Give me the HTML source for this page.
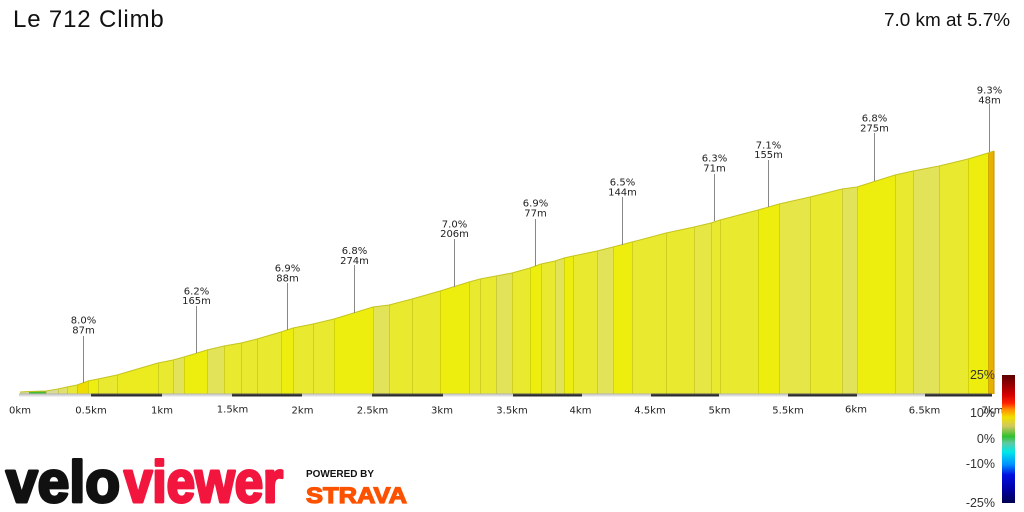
<!DOCTYPE html>
<html>
<head>
<meta charset="utf-8">
<style>
html,body{margin:0;padding:0;background:#fff;}
body{width:1024px;height:512px;overflow:hidden;}
svg{display:block;}
.ann{font-family:"DejaVu Sans","Liberation Sans",sans-serif;font-size:10px;fill:#222;text-anchor:middle;}
.ax{font-family:"DejaVu Sans","Liberation Sans",sans-serif;font-size:10px;fill:#222;text-anchor:middle;}
.lg{font-family:"Liberation Sans",sans-serif;font-size:12.5px;fill:#333;text-anchor:end;}
</style>
</head>
<body>
<svg width="1024" height="512" viewBox="0 0 1024 512" xmlns="http://www.w3.org/2000/svg">
<rect width="1024" height="512" fill="#fff"/>
<text x="13" y="27" font-family="Liberation Sans, sans-serif" font-size="24" letter-spacing="0.85" fill="#111">Le 712 Climb</text>
<text x="1010" y="26" font-family="Liberation Sans, sans-serif" font-size="18.9" fill="#111" text-anchor="end">7.0 km at 5.7%</text>

<g id="profile">
<polygon points="20,394 20,392 29,391.5 29,394" fill="#cfd8a0"/>
<polygon points="29,394 29,391.5 46,391 46,394" fill="#44bb33"/>
<polygon points="46,394 46,391 58,389 58,394" fill="#d8dc98"/>
<polygon points="58,394 58,389 67,387 67,394" fill="#e0e070"/>
<polygon points="67,394 67,387 77,385 77,394" fill="#e8e838"/>
<polygon points="77,394 77,385 88,381 88,394" fill="#f0dc00"/>
<polygon points="88,394 88,381 98,379 98,394" fill="#eeee10"/>
<polygon points="98,394 98,379 117,375 117,394" fill="#e9e930"/>
<polygon points="117,394 117,375 158,363 158,394" fill="#ebeb20"/>
<polygon points="158,394 158,363 173,360 173,394" fill="#e9e930"/>
<polygon points="173,394 173,360 184,357 184,394" fill="#e3e35a"/>
<polygon points="184,394 184,357 207,350 207,394" fill="#eeee0e"/>
<polygon points="207,394 207,350 224,346 224,394" fill="#e3e35a"/>
<polygon points="224,394 224,346 241,343 241,394" fill="#e9e930"/>
<polygon points="241,394 241,343 257,339 257,394" fill="#e9e930"/>
<polygon points="257,394 257,339 281,332 281,394" fill="#e9e930"/>
<polygon points="281,394 281,332 293,328 293,394" fill="#eeee0e"/>
<polygon points="293,394 293,328 313,324 313,394" fill="#e9e930"/>
<polygon points="313,394 313,324 334,319 334,394" fill="#e9e930"/>
<polygon points="334,394 334,319 373,307 373,394" fill="#eeee0e"/>
<polygon points="373,394 373,307 389,305 389,394" fill="#e3e35a"/>
<polygon points="389,394 389,305 412,299 412,394" fill="#e9e930"/>
<polygon points="412,394 412,299 440,291 440,394" fill="#e9e930"/>
<polygon points="440,394 440,291 469,282 469,394" fill="#eeee0e"/>
<polygon points="469,394 469,282 480,279 480,394" fill="#e9e930"/>
<polygon points="480,394 480,279 496,276 496,394" fill="#e9e930"/>
<polygon points="496,394 496,276 512,273 512,394" fill="#e3e35a"/>
<polygon points="512,394 512,273 530,268 530,394" fill="#e9e930"/>
<polygon points="530,394 530,268 541,264 541,394" fill="#eeee0e"/>
<polygon points="541,394 541,264 555,261 555,394" fill="#e9e930"/>
<polygon points="555,394 555,261 564,258 564,394" fill="#e3e35a"/>
<polygon points="564,394 564,258 573,256 573,394" fill="#eeee0e"/>
<polygon points="573,394 573,256 597,251 597,394" fill="#e9e930"/>
<polygon points="597,394 597,251 613,247 613,394" fill="#e3e35a"/>
<polygon points="613,394 613,247 632,242 632,394" fill="#eeee0e"/>
<polygon points="632,394 632,242 666,233 666,394" fill="#e9e930"/>
<polygon points="666,394 666,233 694,227 694,394" fill="#e9e930"/>
<polygon points="694,394 694,227 711,223 711,394" fill="#e6e645"/>
<polygon points="711,394 711,223 720,220 720,394" fill="#e9e930"/>
<polygon points="720,394 720,220 758,210 758,394" fill="#e9e930"/>
<polygon points="758,394 758,210 779,204 779,394" fill="#eeee0e"/>
<polygon points="779,394 779,204 810,197 810,394" fill="#e6e648"/>
<polygon points="810,394 810,197 842,189 842,394" fill="#e9e930"/>
<polygon points="842,394 842,189 857,187 857,394" fill="#e3e35a"/>
<polygon points="857,394 857,187 895,175 895,394" fill="#eeee0e"/>
<polygon points="895,394 895,175 913,171 913,394" fill="#e9e930"/>
<polygon points="913,394 913,171 939,166 939,394" fill="#e3e35a"/>
<polygon points="939,394 939,166 968,159 968,394" fill="#e9e930"/>
<polygon points="968,394 968,159 988,153 988,394" fill="#eeee0e"/>
<polygon points="988,394 988,153 994,151 994,394" fill="#e8b000"/>
<path d="M29.5,391.5V394M46.5,391V394M58.5,389V394M67.5,387V394M77.5,385V394M88.5,381V394M98.5,379V394M117.5,375V394M158.5,363V394M173.5,360V394M184.5,357V394M207.5,350V394M224.5,346V394M241.5,343V394M257.5,339V394M281.5,332V394M293.5,328V394M313.5,324V394M334.5,319V394M373.5,307V394M389.5,305V394M412.5,299V394M440.5,291V394M469.5,282V394M480.5,279V394M496.5,276V394M512.5,273V394M530.5,268V394M541.5,264V394M555.5,261V394M564.5,258V394M573.5,256V394M597.5,251V394M613.5,247V394M632.5,242V394M666.5,233V394M694.5,227V394M711.5,223V394M720.5,220V394M758.5,210V394M779.5,204V394M810.5,197V394M842.5,189V394M857.5,187V394M895.5,175V394M913.5,171V394M939.5,166V394M968.5,159V394M988.5,153V394" stroke="rgba(160,160,0,0.35)" stroke-width="1" fill="none"/>
<polyline points="20,392 29,391.5 46,391 58,389 67,387 77,385 88,381 98,379 117,375 158,363 173,360 184,357 207,350 224,346 241,343 257,339 281,332 293,328 313,324 334,319 373,307 389,305 412,299 440,291 469,282 480,279 496,276 512,273 530,268 541,264 555,261 564,258 573,256 597,251 613,247 632,242 666,233 694,227 711,223 720,220 758,210 779,204 810,197 842,189 857,187 895,175 913,171 939,166 968,159 988,153 994,151" fill="none" stroke="#c4c420" stroke-width="1"/>
<line x1="994" y1="151" x2="994" y2="394" stroke="#c89000" stroke-width="1"/>
</g>

<g id="bar">
<rect x="19" y="393.5" width="72" height="3" fill="#dcdcdc"/>
<rect x="91" y="393.5" width="71" height="3" fill="#2c2c2c"/>
<rect x="162" y="393.5" width="70" height="3" fill="#dcdcdc"/>
<rect x="232" y="393.5" width="70" height="3" fill="#2c2c2c"/>
<rect x="302" y="393.5" width="70" height="3" fill="#dcdcdc"/>
<rect x="372" y="393.5" width="71" height="3" fill="#2c2c2c"/>
<rect x="443" y="393.5" width="70" height="3" fill="#dcdcdc"/>
<rect x="513" y="393.5" width="69" height="3" fill="#2c2c2c"/>
<rect x="582" y="393.5" width="69" height="3" fill="#dcdcdc"/>
<rect x="651" y="393.5" width="68" height="3" fill="#2c2c2c"/>
<rect x="719" y="393.5" width="69" height="3" fill="#dcdcdc"/>
<rect x="788" y="393.5" width="69" height="3" fill="#2c2c2c"/>
<rect x="857" y="393.5" width="68" height="3" fill="#dcdcdc"/>
<rect x="925" y="393.5" width="67" height="3" fill="#2c2c2c"/>
<rect x="19" y="393.5" width="973" height="1" fill="#888" opacity="0.5"/>
</g>

<g id="ann" stroke="#888" stroke-width="1">
<line x1="83.5" y1="336" x2="83.5" y2="383"/>
<line x1="196.5" y1="306" x2="196.5" y2="353"/>
<line x1="287.5" y1="283" x2="287.5" y2="330"/>
<line x1="354.5" y1="265" x2="354.5" y2="313"/>
<line x1="454.5" y1="239" x2="454.5" y2="287"/>
<line x1="535.5" y1="219" x2="535.5" y2="266"/>
<line x1="622.5" y1="197" x2="622.5" y2="245"/>
<line x1="714.5" y1="174" x2="714.5" y2="221"/>
<line x1="768.5" y1="160" x2="768.5" y2="207"/>
<line x1="874.5" y1="133" x2="874.5" y2="181"/>
<line x1="989.5" y1="104" x2="989.5" y2="152"/>
</g>
<g>
<text class="ann" x="83.5" y="323.6">8.0%</text><text class="ann" x="83.5" y="333.6">87m</text>
<text class="ann" x="196.5" y="294.6">6.2%</text><text class="ann" x="196.5" y="304.1">165m</text>
<text class="ann" x="287.5" y="271.6">6.9%</text><text class="ann" x="287.5" y="281.6">88m</text>
<text class="ann" x="354.5" y="254.1">6.8%</text><text class="ann" x="354.5" y="264.1">274m</text>
<text class="ann" x="454.5" y="227.6">7.0%</text><text class="ann" x="454.5" y="237.1">206m</text>
<text class="ann" x="535.5" y="206.6">6.9%</text><text class="ann" x="535.5" y="216.6">77m</text>
<text class="ann" x="622.5" y="185.6">6.5%</text><text class="ann" x="622.5" y="195.6">144m</text>
<text class="ann" x="714.5" y="161.6">6.3%</text><text class="ann" x="714.5" y="171.6">71m</text>
<text class="ann" x="768.5" y="148.6">7.1%</text><text class="ann" x="768.5" y="158.1">155m</text>
<text class="ann" x="874.5" y="121.6">6.8%</text><text class="ann" x="874.5" y="131.6">275m</text>
<text class="ann" x="989.5" y="93.6">9.3%</text><text class="ann" x="989.5" y="103.6">48m</text>
</g>

<g id="axis">
<text class="ax" x="20" y="413.5">0km</text>
<text class="ax" x="91" y="413.5">0.5km</text>
<text class="ax" x="162" y="413.5">1km</text>
<text class="ax" x="232.5" y="412.5">1.5km</text>
<text class="ax" x="302.5" y="413.5">2km</text>
<text class="ax" x="372.5" y="413.5">2.5km</text>
<text class="ax" x="442" y="413.5">3km</text>
<text class="ax" x="512" y="413.5">3.5km</text>
<text class="ax" x="580.5" y="413.5">4km</text>
<text class="ax" x="650" y="413.5">4.5km</text>
<text class="ax" x="719.5" y="413.5">5km</text>
<text class="ax" x="788" y="413.5">5.5km</text>
<text class="ax" x="856" y="412.5">6km</text>
<text class="ax" x="924.5" y="413.5">6.5km</text>
<text class="ax" x="992.5" y="413.5">7km</text>
</g>

<defs>
<linearGradient id="lgd" x1="0" y1="0" x2="0" y2="1">
<stop offset="0" stop-color="#5a0000"/>
<stop offset="0.15" stop-color="#d00000"/>
<stop offset="0.22" stop-color="#ff2000"/>
<stop offset="0.27" stop-color="#ff9000"/>
<stop offset="0.33" stop-color="#f0e000"/>
<stop offset="0.40" stop-color="#d0c860"/>
<stop offset="0.48" stop-color="#30c030"/>
<stop offset="0.53" stop-color="#60c8a0"/>
<stop offset="0.60" stop-color="#00e8e8"/>
<stop offset="0.70" stop-color="#0090ff"/>
<stop offset="0.78" stop-color="#0010e0"/>
<stop offset="0.90" stop-color="#0000a0"/>
<stop offset="1" stop-color="#000050"/>
</linearGradient>
</defs>
<rect x="1002" y="375" width="13" height="128" fill="url(#lgd)"/>
<text class="lg" x="995" y="379">25%</text>
<text class="lg" x="995" y="417">10%</text>
<text class="lg" x="995" y="443">0%</text>
<text class="lg" x="995" y="468">-10%</text>
<text class="lg" x="995" y="507">-25%</text>

<g id="logo">
<text x="6" y="502" font-family="Liberation Sans, sans-serif" font-weight="bold" font-size="58" fill="#111" stroke="#111" stroke-width="3" stroke-linejoin="round" textLength="114" lengthAdjust="spacingAndGlyphs">velo</text>
<text x="124" y="502" font-family="Liberation Sans, sans-serif" font-weight="bold" font-size="58" fill="#f2163e" stroke="#f2163e" stroke-width="3" stroke-linejoin="round" textLength="159" lengthAdjust="spacingAndGlyphs">viewer</text>
<text x="306" y="477" font-family="Liberation Sans, sans-serif" font-weight="bold" font-size="10" fill="#111" textLength="68" lengthAdjust="spacingAndGlyphs">POWERED BY</text>
<text x="306" y="503" font-family="Liberation Sans, sans-serif" font-weight="bold" font-size="22" fill="#fc5200" stroke="#fc5200" stroke-width="1.2" textLength="101" lengthAdjust="spacingAndGlyphs">STRAVA</text>
</g>
</svg>
</body>
</html>
